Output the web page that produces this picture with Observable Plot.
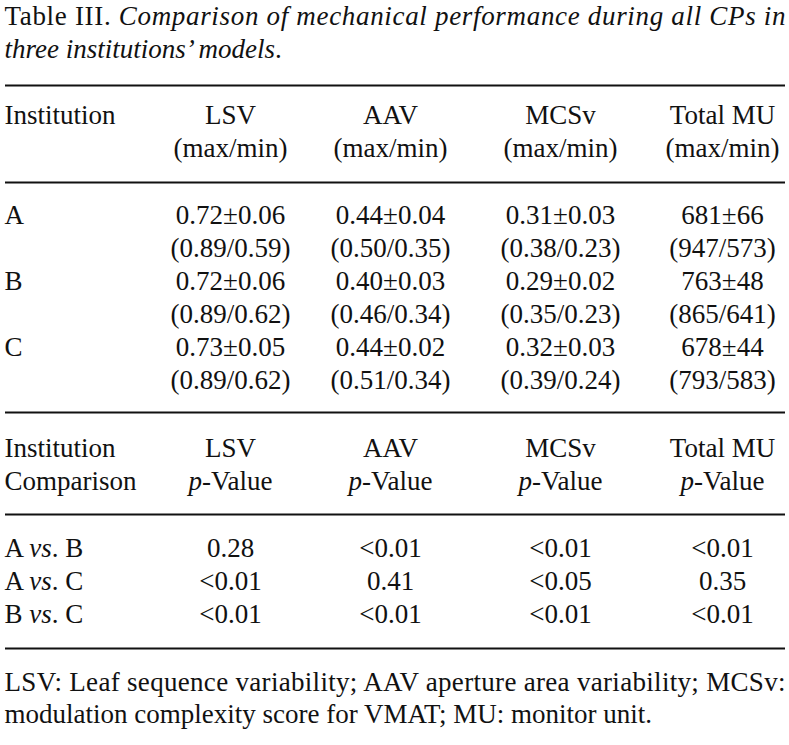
<!DOCTYPE html>
<html>
<head>
<meta charset="utf-8">
<script src="https://cdn.jsdelivr.net/npm/d3@7"></script>
<script src="https://cdn.jsdelivr.net/npm/@observablehq/plot@0.6"></script>
<style>
  html, body { margin: 0; padding: 0; background: #fff; }
  #chart svg { display: block; }
</style>
</head>
<body>
<div id="chart"></div>
<script>
// ---------------- DATA ----------------
const titleLines = [
  "Table III. *Comparison of mechanical performance during all CPs in*",
  "*three institutions’ models*."
];
const metrics = ["LSV", "AAV", "MCSv", "Total MU"];
const institutions = ["A", "B", "C"];
const lsvMean = [0.72, 0.72, 0.73], lsvSd = [0.06, 0.06, 0.05], lsvMax = [0.89, 0.89, 0.89], lsvMin = [0.59, 0.62, 0.62];
const aavMean = [0.44, 0.40, 0.44], aavSd = [0.04, 0.03, 0.02], aavMax = [0.50, 0.46, 0.51], aavMin = [0.35, 0.34, 0.34];
const mcsMean = [0.31, 0.29, 0.32], mcsSd = [0.03, 0.02, 0.03], mcsMax = [0.38, 0.35, 0.39], mcsMin = [0.23, 0.23, 0.24];
const muMean = [681, 763, 678], muSd = [66, 48, 44], muMax = [947, 865, 793], muMin = [573, 641, 583];
const comparisons = ["A *vs*. B", "A *vs*. C", "B *vs*. C"];
const pLSV = ["0.28", "<0.01", "<0.01"];
const pAAV = ["<0.01", "0.41", "<0.01"];
const pMCSv = ["<0.01", "<0.05", "<0.01"];
const pMU = ["<0.01", "0.35", "<0.01"];
const footnoteLines = [
  "LSV: Leaf sequence variability; AAV aperture area variability; MCSv:",
  "modulation complexity score for VMAT; MU: monitor unit."
];

// ---------------- LAYOUT ----------------
const W = 789, H = 745;
const FONT = "'Liberation Serif', 'Times New Roman', serif";
const FS = 27;
const leftX = 4;
const colX = [230, 390, 560, 722];
const ruleX1 = 5, ruleX2 = 785;
const titleY = [24, 57];
const head1Y = [123, 156];
const rule1 = [85, 182];
const dataY0 = 223, rowStep = 33;
const rule2 = 412;
const head2Y = [456, 489];
const rule3 = 514;
const compY0 = 556, compStep = 33;
const rule4 = 648;
const footY = [690, 722];

// ---------------- CELLS ----------------
const startCells = [];
const midCells = [];
titleLines.forEach((t, i) => startCells.push({x: leftX, y: titleY[i], text: t}));
startCells.push({x: leftX, y: head1Y[0], text: "Institution"});
metrics.forEach((m, j) => {
  midCells.push({x: colX[j], y: head1Y[0], text: m});
  midCells.push({x: colX[j], y: head1Y[1], text: "(max/min)"});
});
const groups = [
  [lsvMean, lsvSd, lsvMax, lsvMin, 2],
  [aavMean, aavSd, aavMax, aavMin, 2],
  [mcsMean, mcsSd, mcsMax, mcsMin, 2],
  [muMean, muSd, muMax, muMin, 0]
];
institutions.forEach((inst, i) => {
  const y1 = dataY0 + rowStep * 2 * i, y2 = y1 + rowStep;
  startCells.push({x: leftX, y: y1, text: inst});
  groups.forEach(([mean, sd, mx, mn, dec], j) => {
    midCells.push({x: colX[j], y: y1, text: `${mean[i].toFixed(dec)}±${sd[i].toFixed(dec)}`});
    midCells.push({x: colX[j], y: y2, text: `(${mx[i].toFixed(dec)}/${mn[i].toFixed(dec)})`});
  });
});
startCells.push({x: leftX, y: head2Y[0], text: "Institution"});
startCells.push({x: leftX, y: head2Y[1], text: "Comparison"});
metrics.forEach((m, j) => {
  midCells.push({x: colX[j], y: head2Y[0], text: m});
  midCells.push({x: colX[j], y: head2Y[1], text: "*p*-Value"});
});
const pCols = [pLSV, pAAV, pMCSv, pMU];
comparisons.forEach((c, i) => {
  const y = compY0 + compStep * i;
  startCells.push({x: leftX, y, text: c});
  pCols.forEach((col, j) => midCells.push({x: colX[j], y, text: col[i]}));
});
footnoteLines.forEach((t, i) => startCells.push({x: leftX, y: footY[i], text: t}));

const rules = [rule1[0], rule1[1], rule2, rule3, rule4];

// ---------------- PLOT ----------------
const chart = Plot.plot({
  width: W,
  height: H,
  margin: 0,
  x: {type: "linear", domain: [0, W], range: [0, W], axis: null},
  y: {type: "linear", domain: [0, H], range: [0, H], axis: null},
  style: {fontFamily: FONT, background: "#fff", color: "#111"},
  marks: [
    Plot.ruleY(rules, {y: d => d, x1: ruleX1, x2: ruleX2, stroke: "#111", strokeWidth: 2}),
    Plot.text(startCells, {x: "x", y: "y", text: "text", textAnchor: "start", lineAnchor: "bottom",
      fontSize: FS, fill: "#111"}),
    Plot.text(midCells, {x: "x", y: "y", text: "text", textAnchor: "middle", lineAnchor: "bottom",
      fontSize: FS, fill: "#111"})
  ]
});

// mixed italic runs (*...*) and justified lines
d3.select(chart).selectAll("text").each(function () {
  const el = d3.select(this);
  const s = this.textContent;
  if (s.startsWith("Table III.") || s.startsWith("LSV: Leaf")) {
    el.attr("textLength", ruleX2 - leftX).attr("lengthAdjust", "spacing");
  }
  if (s.includes("*")) {
    const parts = s.split("*");
    el.text(null);
    parts.forEach((p, k) => {
      if (!p) return;
      el.append("tspan").attr("font-style", k % 2 ? "italic" : null).text(p);
    });
  }
});

document.getElementById("chart").appendChild(chart);
</script>
</body>
</html>
